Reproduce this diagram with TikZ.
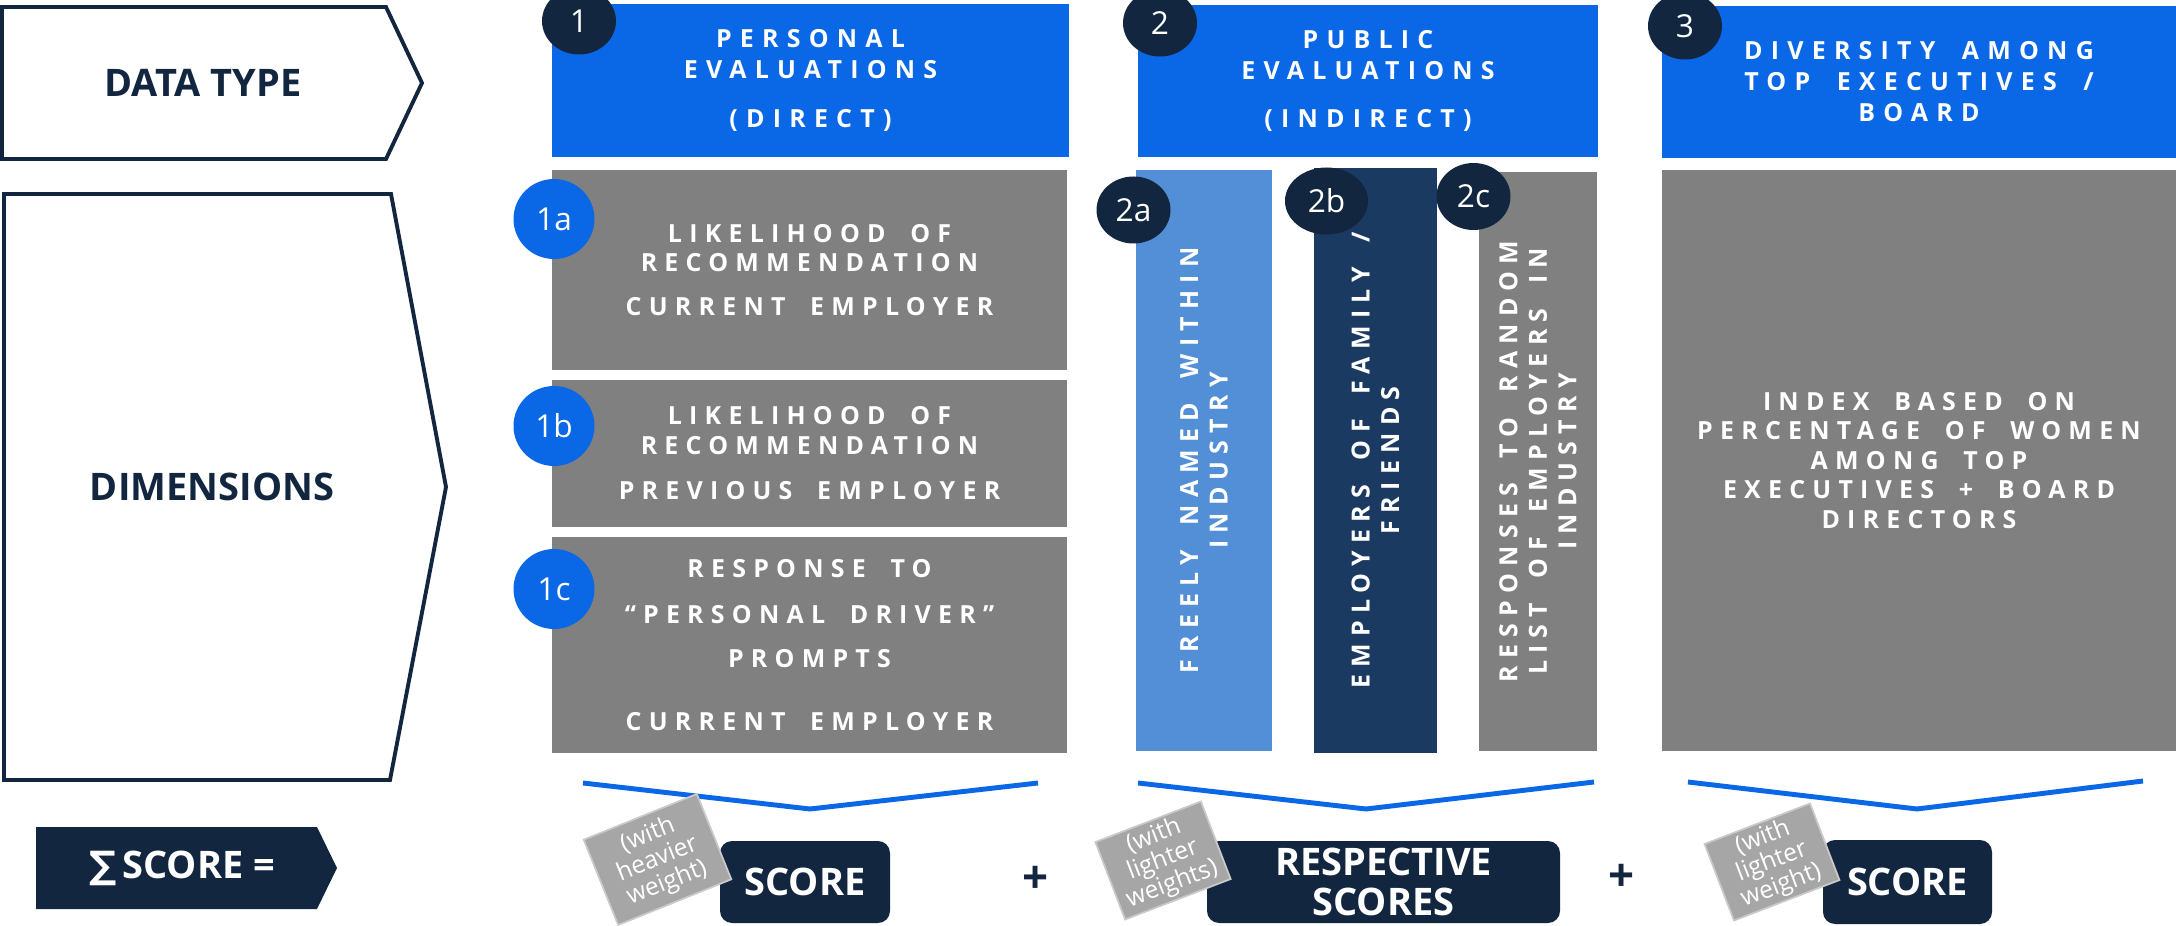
\documentclass[tikz,border=0pt]{standalone}
\usepackage{fontspec}
\setmainfont{Open Sans}
\newfontfamily\spacedfont[LetterSpace=33,WordSpace=1.8]{Open Sans}
\newfontfamily\boxfont[LetterSpace=29,WordSpace=1.8]{Open Sans}
\newfontfamily\sumfont{DejaVu Sans}
\usetikzlibrary{shapes.geometric}

\definecolor{navy}{HTML}{12263F}
\definecolor{hdrblue}{HTML}{0A68E6}
\definecolor{paleblue}{HTML}{528FD6}
\definecolor{midnavy}{HTML}{1A3A62}
\definecolor{boxgray}{HTML}{808080}
\definecolor{taggray}{HTML}{A6A6A6}

\begin{document}
\begin{tikzpicture}[
		x=0.1mm, y=-0.1mm,
		outline/.style={draw=navy, line width=1.1pt},
		rowlabel/.style={text=navy, font=\bfseries\fontsize{10.8}{13}\selectfont},
		header/.style={fill=hdrblue, text=white, inner sep=0pt, align=center,
			font=\spacedfont\bfseries\fontsize{7.1}{8.8}\selectfont},
		dimbox/.style={fill=boxgray, text=white, inner sep=0pt, align=center,
			font=\boxfont\bfseries\fontsize{7.1}{8.4}\selectfont},
		sidetext/.style={dimbox, fill=none, rotate=90},
		numdot/.style={ellipse, fill=navy, text=white, inner sep=0pt,
			minimum width=7.4mm, minimum height=6.7mm, font=\fontsize{9}{9}\selectfont},
		subdot/.style={numdot, fill=hdrblue, minimum width=8.1mm, minimum height=8mm},
		bracket/.style={draw=hdrblue, line width=1.4pt},
		scorebox/.style={fill=navy, text=white, rounded corners=1.2mm, inner sep=0pt, align=center,
			font=\bfseries\fontsize{10.8}{11.4}\selectfont},
		weighttag/.style={fill=taggray, draw=taggray!60!white, line width=0.5pt, text=white,
			inner sep=0pt, align=center, font=\fontsize{7}{7.3}\selectfont},
		plus/.style={text=navy, font=\bfseries\fontsize{13}{13}\selectfont}
	]
	\useasboundingbox (0,0) rectangle (2176,926);

	% row labels
	\draw[outline] (2,7) -- (386,7) -- (422,83) -- (386,159) -- (2,159) -- cycle;
	\node[rowlabel] (datatype) at (203,83) {DATA TYPE};
	\draw[outline] (4,194) -- (391,194) -- (446,487) -- (390,780) -- (4,780) -- cycle;
	\node[rowlabel] (dimensions) at (212,487) {DIMENSIONS};

	% data types
	\node[header, minimum width=51.7mm, minimum height=15.3mm] (personal) at (810.5,80.5)
		{PERSONAL\\ EVALUATIONS\\[5.1pt] (DIRECT)};
	\node[header, minimum width=46mm, minimum height=15.2mm] (public) at (1368,81)
		{PUBLIC\\ EVALUATIONS\\[5.1pt] (INDIRECT)};
	\node[header, minimum width=51.4mm, minimum height=15.2mm] (diversity) at (1919,82)
		{DIVERSITY AMONG\\ TOP EXECUTIVES /\\ BOARD};

	% dimensions
	\node[dimbox, minimum width=51.5mm, minimum height=20mm] (d1a) at (809.5,270)
		{LIKELIHOOD OF\\ RECOMMENDATION\\[4pt] CURRENT EMPLOYER};
	\node[dimbox, minimum width=51.5mm, minimum height=14.7mm] (d1b) at (809.5,453.5)
		{LIKELIHOOD OF\\ RECOMMENDATION\\[4.5pt] PREVIOUS EMPLOYER};
	\node[dimbox, minimum width=51.5mm, minimum height=21.6mm] (d1c) at (809.5,645)
		{RESPONSE TO\\[4.8pt] “PERSONAL DRIVER”\\[4.2pt] PROMPTS\\[9.4pt] CURRENT EMPLOYER};
	\node[dimbox, fill=paleblue, minimum width=13.6mm, minimum height=58.1mm] (d2a) at (1204,460.5) {};
	\node[sidetext] (t2a) at (d2a) {FREELY NAMED WITHIN\\ INDUSTRY};
	\node[dimbox, fill=midnavy, minimum width=12.3mm, minimum height=58.5mm] (d2b) at (1375.5,460.5) {};
	\node[sidetext] (t2b) at (d2b) {EMPLOYERS OF FAMILY /\\ FRIENDS};
	\node[dimbox, minimum width=11.8mm, minimum height=57.9mm] (d2c) at (1538,461.5) {};
	\node[sidetext] (t2c) at (d2c) {RESPONSES TO RANDOM\\ LIST OF EMPLOYERS IN\\ INDUSTRY};
	\node[dimbox, minimum width=51.4mm, minimum height=58.1mm] (d3) at (1919,460.5)
		{INDEX BASED ON\\ PERCENTAGE OF WOMEN\\ AMONG TOP\\ EXECUTIVES + BOARD\\ DIRECTORS};

	% numbering
	\node[numdot] (n1) at (579,21) {1};
	\node[numdot] (n2) at (1160,23) {2};
	\node[numdot] (n3) at (1685,26) {3};
	\node[subdot] (n1a) at (554,219) {1a};
	\node[subdot] (n1b) at (554,426) {1b};
	\node[subdot] (n1c) at (554,589) {1c};
	\node[numdot] (n2a) at (1133.5,210) {2a};
	\node[numdot, minimum width=8.3mm] (n2b) at (1326.5,201) {2b};
	\node[numdot] (n2c) at (1473.5,196.5) {2c};

	% brackets under each column
	\draw[bracket] (583,783) -- (810,809) -- (1038,783);
	\draw[bracket] (1138,783) -- (1366,809) -- (1594,782);
	\draw[bracket] (1688,782) -- (1917,809) -- (2143,781);

	% total score
	\fill[navy] (36,827) -- (317,827) -- (337,868) -- (317,909) -- (36,909) -- cycle;
	\node[text=white, font=\bfseries\fontsize{10.8}{12}\selectfont] (total) at (182,868)
		{{\sumfont ∑}\,SCORE =};
	\node[scorebox, minimum width=17mm, minimum height=8.2mm] (s1) at (805,882) {SCORE};
	\node[plus] (p1) at (1036,880) {+};
	\node[scorebox, minimum width=35.3mm, minimum height=8.2mm] (s2) at (1383.5,882) {RESPECTIVE\\ SCORES};
	\node[plus] (p2) at (1622,878) {+};
	\node[scorebox, minimum width=16.9mm, minimum height=8.4mm] (s3) at (1907.5,882) {SCORE};

	\node[weighttag, rotate=22, minimum width=12.2mm, minimum height=9.2mm] (w1) at (657.5,859.5)
		{(with\\ heavier\\ weight)};
	\node[weighttag, rotate=21, minimum width=11.3mm, minimum height=8.3mm] (w2) at (1163,860.5)
		{(with\\ lighter\\ weights)};
	\node[weighttag, rotate=21, minimum width=11.3mm, minimum height=8.2mm] (w3) at (1772,862)
		{(with\\ lighter\\ weight)};
\end{tikzpicture}
\end{document}
